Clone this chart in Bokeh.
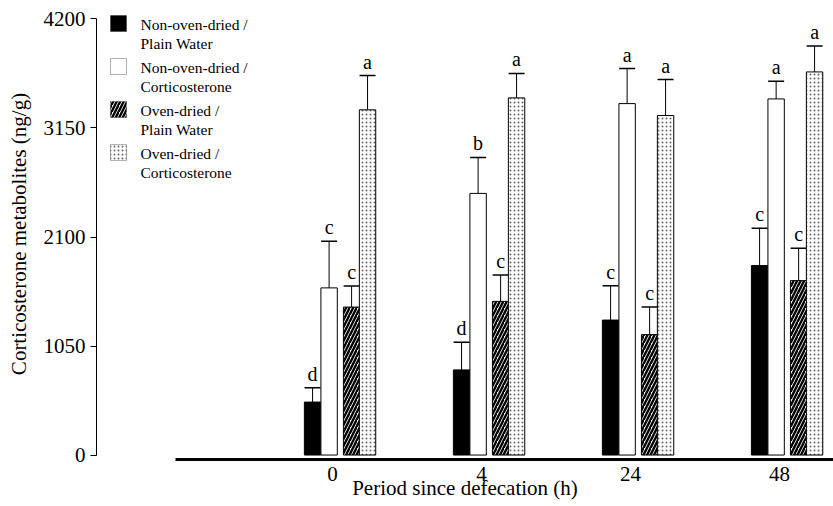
from bokeh.plotting import figure
from bokeh.models import (ColumnDataSource, Whisker, TeeHead, FixedTicker, Range1d,
                          Label, BoxAnnotation)
from bokeh.core.properties import value
from bokeh.embed import file_html
from bokeh.resources import INLINE

# ---- data ----
periods = ["0", "4", "24", "48"]
series_names = [["Non-oven-dried /", "Plain Water"], ["Non-oven-dried /", "Corticosterone"],
                ["Oven-dried  /", "Plain Water"], ["Oven-dried /", "Corticosterone"]]
npw_mean = [510, 820, 1300, 1825]
npw_err = [138, 266, 331, 359]
npw_sig = ["d", "d", "c", "c"]
nc_mean = [1610, 2520, 3385, 3430]
nc_err = [450, 347, 337, 170]
nc_sig = ["c", "b", "a", "a"]
ow_mean = [1425, 1480, 1160, 1680]
ow_err = [202, 254, 266, 311]
ow_sig = ["c", "c", "c", "c"]
oc_mean = [3325, 3440, 3270, 3690]
oc_err = [330, 235, 347, 250]
oc_sig = ["a", "a", "a", "a"]
y_ticks = [0, 1050, 2100, 3150, 4200]

# ---- layout / style ----
FONT = "Liberation Serif"
offsets = [-0.134, -0.023, 0.128, 0.235]
bar_w = 0.11
styles = [
    dict(fill_color="black"),
    dict(fill_color="white"),
    dict(fill_color="white", hatch_pattern="/", hatch_color="black", hatch_weight=2.4, hatch_scale=7),
    dict(fill_color="white", hatch_pattern=".", hatch_color="#666666", hatch_weight=1.0, hatch_scale=4),
]
series = [(npw_mean, npw_err, npw_sig), (nc_mean, nc_err, nc_sig),
          (ow_mean, ow_err, ow_sig), (oc_mean, oc_err, oc_sig)]

FRAME_H = 451
p = figure(width=833, height=506, output_backend="svg", toolbar_location=None,
           x_range=Range1d(-1.584, 3.362), y_range=Range1d(-43, 4301),
           min_border_left=96, min_border_right=0, min_border_top=8, min_border_bottom=47)
p.outline_line_color = None
p.grid.visible = False
p.background_fill_color = "white"
p.border_fill_color = "white"

for k, (means, errs, sigs) in enumerate(series):
    src = ColumnDataSource(dict(
        x=[i + offsets[k] for i in range(len(periods))],
        top=means,
        upper=[m + e for m, e in zip(means, errs)],
        sig=sigs,
    ))
    p.vbar(x="x", top="top", bottom=0, width=bar_w, source=src,
           line_color="black", line_width=1, **styles[k])
    w = Whisker(source=src, base="x", lower="top", upper="upper", dimension="height",
                upper_head=TeeHead(size=16, line_width=1.5, line_color="black"),
                lower_head=None, line_color="black", line_width=1)
    p.add_layout(w)
    p.text(x="x", y="upper", text="sig", source=src, text_font=value(FONT),
           text_font_size="20px", text_align="center", text_baseline="bottom",
           y_offset=-3, text_color="black")

# manual legend (screen units, relative to frame bottom-left)
LEG_X = 14      # square left, px from frame left
LEG_TOP = 7     # first square top, px from frame top
LEG_STEP = 43   # px between entries
SQ = 16
for k, names in enumerate(series_names):
    top_px = FRAME_H - LEG_TOP - k * LEG_STEP
    box = BoxAnnotation(left=LEG_X, right=LEG_X + SQ, top=top_px, bottom=top_px - SQ,
                        left_units="screen", right_units="screen",
                        top_units="screen", bottom_units="screen",
                        line_color="black", line_width=1, fill_alpha=1, hatch_alpha=1,
                        level="overlay", **styles[k])
    p.add_layout(box)
    for j, line in enumerate(names):
        p.add_layout(Label(x=LEG_X + SQ + 14, y=top_px - 9 - j * 19, x_units="screen",
                           y_units="screen", text=line, text_font=FONT,
                           text_font_size="15.5px", text_baseline="middle",
                           text_align="left", text_color="black"))

# y axis
ya = p.yaxis[0]
ya.ticker = FixedTicker(ticks=y_ticks)
ya.bounds = (0, 4200)
ya.axis_label = "Corticosterone metabolites (ng/g)"
ya.axis_label_text_font = FONT
ya.axis_label_text_font_size = "21px"
ya.axis_label_text_font_style = "normal"
ya.axis_label_text_color = "black"
ya.axis_label_standoff = 10
ya.major_label_text_font = FONT
ya.major_label_text_font_size = "21px"
ya.major_label_text_color = "black"
ya.major_label_standoff = 5
ya.major_tick_out = 6
ya.major_tick_in = 0
ya.minor_tick_out = 0
ya.minor_tick_in = 0
ya.axis_line_color = "black"
ya.major_tick_line_color = "black"

# x axis
xa = p.xaxis[0]
xa.ticker = FixedTicker(ticks=list(range(len(periods))))
xa.major_label_overrides = {i: lab for i, lab in enumerate(periods)}
xa.bounds = (-1.054, 3.362)
xa.axis_label = "Period since defecation (h)"
xa.axis_label_text_font = FONT
xa.axis_label_text_font_size = "21px"
xa.axis_label_text_font_style = "normal"
xa.axis_label_text_color = "black"
xa.axis_label_standoff = -8
xa.major_label_text_font = FONT
xa.major_label_text_font_size = "21px"
xa.major_label_text_color = "black"
xa.major_label_standoff = 7
xa.major_tick_out = 0
xa.major_tick_in = 0
xa.minor_tick_out = 0
xa.minor_tick_in = 0
xa.axis_line_width = 3
xa.axis_line_color = "black"

open("out.html", "w").write(file_html(p, INLINE))
